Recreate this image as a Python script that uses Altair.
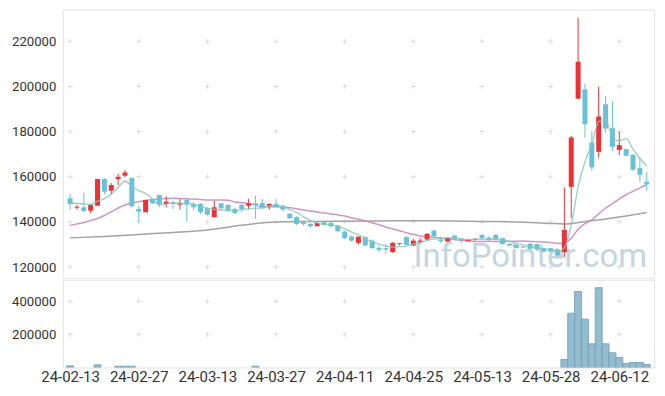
import json
import altair as alt
import pandas as pd

# ---------------- data ----------------
dates = [
    "24-02-13", "24-02-14", "24-02-15", "24-02-16", "24-02-19", "24-02-20", "24-02-21", "24-02-22",
    "24-02-23", "24-02-26", "24-02-27", "24-02-28", "24-02-29",
    "24-03-04", "24-03-05", "24-03-06", "24-03-07", "24-03-08", "24-03-11", "24-03-12", "24-03-13",
    "24-03-14", "24-03-15", "24-03-18", "24-03-19", "24-03-20", "24-03-21", "24-03-22", "24-03-25",
    "24-03-26", "24-03-27", "24-03-28", "24-03-29",
    "24-04-01", "24-04-02", "24-04-03", "24-04-04", "24-04-05", "24-04-08", "24-04-09", "24-04-11",
    "24-04-12", "24-04-15", "24-04-16", "24-04-17", "24-04-18", "24-04-19", "24-04-22", "24-04-23",
    "24-04-24", "24-04-25", "24-04-26", "24-04-29", "24-04-30",
    "24-05-02", "24-05-03", "24-05-07", "24-05-08", "24-05-09", "24-05-10", "24-05-13", "24-05-14",
    "24-05-16", "24-05-17", "24-05-20", "24-05-21", "24-05-22", "24-05-23", "24-05-24", "24-05-27",
    "24-05-28", "24-05-29", "24-05-30", "24-05-31",
    "24-06-03", "24-06-04", "24-06-05", "24-06-07", "24-06-10", "24-06-11", "24-06-12", "24-06-13",
    "24-06-14", "24-06-17", "24-06-18",
]

opens = [
    150460, 146310, 146490, 144990, 147200, 158980, 153820, 158980, 160440, 159430,
    145740, 144280, 149710, 151920, 147950, 148700, 147640, 149710, 147950, 147950,
    146050, 142080, 148260, 147500, 145740, 147500, 147200, 148260, 148390, 146930,
    147950, 147200, 143530, 142080, 139870, 139110, 138100, 139870, 139560, 138370,
    135720, 133510, 130730, 133250, 131740, 128520, 128390, 126620, 130290, 133250,
    129540, 131040, 132180, 136160, 132180, 131300, 133950, 132490, 131480, 132050,
    134260, 133070, 134260, 132800, 130290, 129850, 129100, 130290, 130160, 128390,
    128390, 127770, 126620, 155590, 194610, 198720, 175190, 171040, 192100, 181500,
    171920, 172230, 169710, 163840, 157790,
]
highs = [
    152360, 147500, 152800, 147640, 159120, 159430, 157220, 161190, 162960, 159740,
    147200, 149930, 150380, 152140, 151350, 149400, 150160, 150160, 148700, 148390,
    146490, 149400, 148390, 147950, 146490, 147950, 150160, 151610, 150160, 148390,
    150160, 147500, 143970, 142520, 140570, 139560, 139870, 140130, 140130, 138680,
    136160, 133950, 133510, 133510, 132180, 129540, 130290, 131040, 130600, 133690,
    132490, 132800, 135140, 136600, 133250, 133160, 134260, 132800, 132360, 132800,
    134570, 133690, 134700, 133070, 130510, 129980, 129400, 130600, 130420, 128650,
    128520, 128210, 155320, 178100, 230380, 201370, 180310, 199910, 195760, 193540,
    179870, 172230, 170020, 168560, 162210,
]
lows = [
    145430, 145430, 144280, 143840, 147200, 152360, 152360, 156340, 159740, 146490,
    139870, 144280, 147950, 146490, 146490, 145740, 145430, 140130, 144990, 143530,
    142780, 142080, 145430, 144550, 143530, 144280, 145430, 141320, 145740, 145430,
    146310, 144860, 141320, 138680, 138370, 137220, 138100, 138370, 137660, 135450,
    132490, 131300, 129980, 129270, 128080, 126620, 125870, 126310, 129540, 129540,
    129540, 130290, 131740, 133250, 130730, 131300, 132180, 130730, 131480, 131740,
    132490, 131740, 131920, 129980, 129400, 128210, 128390, 127770, 127510, 126620,
    126620, 124680, 124420, 141770, 194310, 177400, 162650, 168560, 179600, 171480,
    169580, 169140, 162650, 157790, 153820,
]
closes = [
    147950, 146750, 144860, 147500, 158980, 153380, 156340, 160000, 161940, 146930,
    144550, 149710, 148260, 147810, 148960, 147950, 148390, 147640, 146490, 144280,
    143220, 146490, 146050, 144990, 143970, 145740, 148260, 147500, 146050, 147950,
    146490, 145430, 141630, 139110, 139110, 138100, 139560, 138810, 138100, 135890,
    132800, 131740, 133510, 129540, 128390, 127640, 127770, 130730, 130600, 129850,
    131740, 131740, 134700, 133690, 131480, 132940, 132490, 131740, 132180, 132490,
    132800, 132180, 132180, 130290, 129540, 128520, 128650, 128080, 127770, 126890,
    126890, 125120, 136470, 177400, 210950, 183270, 164150, 186670, 181370, 173250,
    174000, 169270, 163090, 160880, 156650,
]
volumes = [
    10000, 0, 0, 0, 16000, 0, 0, 8000, 8000, 8000,
    0, 0, 0, 0, 0, 0, 0, 0, 0, 0,
    0, 0, 0, 0, 0, 0, 0, 8000, 0, 0,
    0, 0, 0, 0, 0, 0, 0, 0, 0, 0,
    0, 0, 0, 0, 0, 0, 0, 0, 0, 0,
    0, 0, 0, 0, 0, 0, 0, 0, 0, 0,
    0, 0, 0, 0, 0, 0, 0, 0, 0, 0,
    0, 0, 48000, 328000, 459000, 292000, 143000, 482000, 143000, 89000,
    60000, 24000, 30000, 30000, 18000,
]
ma5 = [
    148390, 148170, 147950, 147730, 149210, 150290, 152210, 155240, 158130, 155720,
    153950, 152630, 150280, 147450, 147860, 148540, 148270, 148150, 147890, 146950,
    146000, 145620, 145310, 145010, 144940, 145450, 145800, 146090, 146300, 147100,
    147250, 146680, 145510, 144120, 142350, 140680, 139500, 138940, 138740, 138090,
    137030, 135470, 134410, 132700, 131200, 130160, 129370, 128810, 129030, 129320,
    130140, 130930, 131730, 132340, 132670, 132910, 133060, 132470, 132170, 132370,
    132340, 132280, 132370, 131990, 131400, 130540, 129840, 129020, 128510, 127980,
    127660, 126950, 128630, 138550, 155370, 166640, 174450, 184490, 185280, 177740,
    175890, 176910, 172200, 168100, 164780,
]
ma20 = [
    138460, 139120, 139780, 140570, 141550, 142870, 144420, 146180, 147500, 148390,
    148960, 149490, 149930, 150160, 150380, 150460, 150380, 150240, 150160, 149930,
    149690, 149680, 149740, 149610, 148860, 148480, 148080, 147450, 146660, 146710,
    146810, 146590, 146260, 145820, 145330, 144840, 144400, 143950, 143530, 143110,
    142590, 141860, 141230, 140460, 139680, 138770, 137750, 136910, 136130, 135230,
    134490, 133810, 133460, 133190, 132810, 132550, 132190, 131840, 131540, 131370,
    131370, 131400, 131330, 131370, 131430, 131470, 131510, 131380, 131240, 131090,
    130850, 130520, 130610, 132790, 136770, 139280, 140870, 143610, 146070, 148110,
    150170, 152030, 153570, 155100, 156460,
]
ma_long_idx = [0, 5, 10, 15, 20, 25, 30, 35, 40, 45, 50, 55, 60, 65, 70, 72, 75, 80, 84]
ma_long = [132940, 133600, 134480, 135360, 136470, 138540, 140000, 140220, 140310, 140440,
           140570, 140440, 140220, 140000, 139340, 139120, 140220, 142200, 144190]

x_tick_idx = [0, 10, 20, 30, 40, 50, 60, 70, 80]
price_ticks = [120000, 140000, 160000, 180000, 200000, 220000]
vol_ticks = [200000, 400000]
WATERMARK = "InfoPointer.com"

# ---------------- styling ----------------
RED = "#ec3237"
BLUE = "#67c1da"
TEAL = "#86c8b6"
PURPLE = "#c98ac1"
GRAY = "#999999"
FONT = "Roboto"
CROSS = "M-1,0L1,0M0,-1L0,1"

n = len(dates)
df = pd.DataFrame({
    "idx": list(range(n)), "date": dates, "open": opens, "high": highs,
    "low": lows, "close": closes, "volume": volumes,
})
df["dir"] = ["up" if c >= o else "down" for o, c in zip(opens, closes)]

ma5_df = pd.DataFrame({"idx": list(range(n)), "value": ma5})
ma20_df = pd.DataFrame({"idx": list(range(n)), "value": ma20})
malong_df = pd.DataFrame({"idx": ma_long_idx, "value": ma_long})
cross_p = pd.DataFrame([(i, v) for i in x_tick_idx for v in price_ticks], columns=["idx", "value"])
cross_v = pd.DataFrame([(i, v) for i in x_tick_idx for v in vol_ticks], columns=["idx", "value"])

xs = alt.Scale(domain=[-0.33, 84.33], nice=False, zero=False)
ps = alt.Scale(domain=[115280, 234040], nice=False, zero=False)
vs = alt.Scale(domain=[0, 530000], nice=False)

price_axis = alt.Axis(values=price_ticks, format="d", title=None, grid=False, ticks=False,
                      domain=False, labelPadding=7, labelFontSize=13.2,
                      minExtent=51, maxExtent=51)
vol_axis = alt.Axis(values=vol_ticks, format="d", title=None, grid=False, ticks=False,
                    domain=False, labelPadding=7, labelFontSize=13.2,
                    minExtent=51, maxExtent=51)
x_axis_vol = alt.Axis(values=x_tick_idx, labelExpr=json.dumps(dates) + "[datum.value]",
                      title=None, grid=False, ticks=False, domain=False, labelPadding=2,
                      labelFontSize=15, labelOverlap=False)

color = alt.Color("dir:N", scale=alt.Scale(domain=["up", "down"], range=[RED, BLUE]), legend=None)


def px():
    return alt.X("idx:Q", scale=xs, axis=None)


def py(field):
    return alt.Y(f"{field}:Q", scale=ps, axis=price_axis)


crosses_price = alt.Chart(cross_p).mark_point(
    shape=CROSS, size=25, filled=False, stroke="#dcdcdc", strokeWidth=1, opacity=1
).encode(x=px(), y=py("value"))

watermark = alt.Chart(pd.DataFrame({"t": [WATERMARK]})).mark_text(
    align="right", baseline="alphabetic", font="Roboto", fontSize=33,
    color="#bcd2df", opacity=0.9, x=586, y=258
).encode(text="t:N")

line_long = alt.Chart(malong_df).mark_line(
    color=GRAY, strokeWidth=1.5, interpolate="monotone", opacity=0.9
).encode(x=px(), y=py("value"))
line_20 = alt.Chart(ma20_df).mark_line(
    color=PURPLE, strokeWidth=1.5, interpolate="monotone", opacity=0.9
).encode(x=px(), y=py("value"))

wicks = alt.Chart(df).mark_rule(strokeWidth=1).encode(
    x=px(), y=py("low"), y2=alt.Y2("high:Q"), color=color
)
bodies = alt.Chart(df).mark_bar(size=5).encode(
    x=px(), y=py("open"), y2=alt.Y2("close:Q"), color=color
)
line_5 = alt.Chart(ma5_df).mark_line(
    color=TEAL, strokeWidth=1.3, interpolate="monotone", opacity=0.85
).encode(x=px(), y=py("value"))

price = alt.layer(
    crosses_price, watermark, line_long, line_20, wicks, bodies, line_5
).properties(width=593, height=269)

crosses_volume = alt.Chart(cross_v).mark_point(
    shape=CROSS, size=25, filled=False, stroke="#dcdcdc", strokeWidth=1, opacity=1
).encode(
    x=alt.X("idx:Q", scale=xs, axis=x_axis_vol),
    y=alt.Y("value:Q", scale=vs, axis=vol_axis),
)
vol_bars = alt.Chart(df).transform_filter("datum.volume > 0").mark_bar(
    size=7, color="#93bcce", stroke="#6f9db5", strokeWidth=0.8, clip=True
).encode(
    x=alt.X("idx:Q", scale=xs, axis=x_axis_vol),
    y=alt.Y("volume:Q", scale=vs, axis=vol_axis),
)
volume = alt.layer(crosses_volume, vol_bars).properties(width=593, height=88)

chart = alt.vconcat(price, volume, spacing=0).properties(
    padding={"left": 3, "top": 0, "right": 2, "bottom": 2}
).configure_view(
    stroke="#e3e3e3", strokeWidth=1
).configure_axis(
    labelFont=FONT, labelColor="#333333"
)

chart.save("out.html", embed_options={"renderer": "svg", "actions": False})
